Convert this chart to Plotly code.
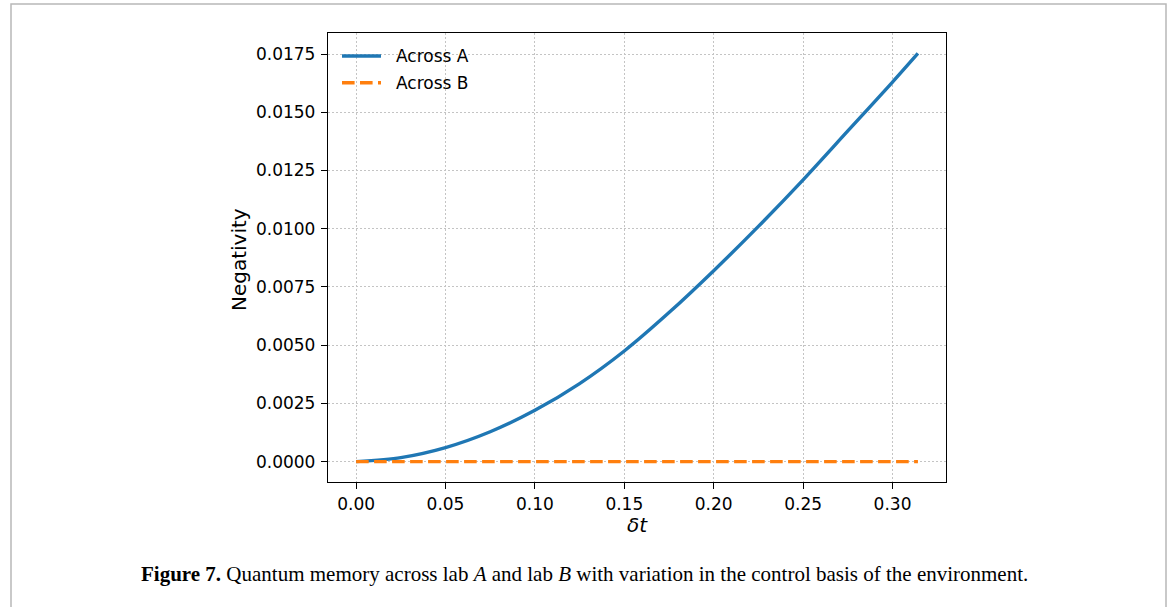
import plotly.graph_objects as go

# ---- data ----
delta_t = [0.0, 0.025, 0.05, 0.075, 0.10, 0.125, 0.15, 0.175, 0.20, 0.225, 0.25, 0.275, 0.30, 0.3142]
neg_A = [0.0, 0.00017, 0.0006, 0.00128, 0.0022, 0.00335, 0.00475, 0.0064, 0.0082, 0.0101, 0.0121, 0.0142, 0.0163, 0.01753]
neg_B = [0.0] * len(delta_t)
series_names = ["Across A", "Across B"]
x_ticks = [0.0, 0.05, 0.10, 0.15, 0.20, 0.25, 0.30]
y_ticks = [0.0, 0.0025, 0.005, 0.0075, 0.01, 0.0125, 0.015, 0.0175]

W, H = 1173, 607
L, R, T, B = 328, 946, 33, 482
pw, ph = R - L, B - T


def px(xp):
    return (xp - L) / pw


def py(yp):
    return (B - yp) / ph


BLUE = "#1f77b4"
ORANGE = "#ff7f0e"
TICKFONT = dict(family="DejaVu Sans", size=17, color="#000000")
LABELFONT = dict(family="DejaVu Sans", size=20, color="#000000")
GRID = dict(showgrid=True, gridcolor="#c4c4c4", griddash="1.5px,2.5px", gridwidth=1)
AXIS = dict(zeroline=False, showline=True, linecolor="#000000", linewidth=1.3, mirror=True,
            ticks="outside", ticklen=6, tickwidth=1.3, tickcolor="#000000", tickfont=TICKFONT)

fig = go.Figure()
fig.add_trace(go.Scatter(x=delta_t, y=neg_A, mode="lines", name=series_names[0],
                         line=dict(color=BLUE, width=3.4, shape="spline", smoothing=0.8),
                         showlegend=False))
fig.add_trace(go.Scatter(x=delta_t, y=neg_B, mode="lines", name=series_names[1],
                         line=dict(color=ORANGE, width=3.4, dash="12.6px,5.4px"), showlegend=False))

xmax = max(delta_t)
ymax = max(neg_A)
fig.update_xaxes(range=[-0.05 * xmax, 1.05 * xmax], tickvals=x_ticks, tickformat=".2f",
                 ticklabelstandoff=0, **GRID, **AXIS)
fig.update_yaxes(range=[-0.05 * ymax, 1.05 * ymax], tickvals=y_ticks, tickformat=".4f",
                 ticklabelstandoff=2, **GRID, **AXIS)

shapes = [
    # outer page border
    dict(type="rect", xref="paper", yref="paper", x0=px(11), x1=px(1166), y0=py(615), y1=py(4),
         line=dict(color="#b8b8b8", width=1.5), fillcolor="rgba(0,0,0,0)", layer="below"),
    # legend samples
    dict(type="line", xref="paper", yref="paper", x0=px(342), x1=px(381), y0=py(56), y1=py(56),
         line=dict(color=BLUE, width=3.4)),
    dict(type="line", xref="paper", yref="paper", x0=px(342), x1=px(381), y0=py(82.7), y1=py(82.7),
         line=dict(color=ORANGE, width=3.4, dash="12.6px,5.4px")),
]

annotations = [
    dict(text=series_names[0], xref="paper", yref="paper", x=px(394), y=py(56), xanchor="left",
         yanchor="middle", showarrow=False, font=TICKFONT),
    dict(text=series_names[1], xref="paper", yref="paper", x=px(394), y=py(82.7), xanchor="left",
         yanchor="middle", showarrow=False, font=TICKFONT),
    dict(text="Negativity", xref="paper", yref="paper", x=px(239), y=py(260), textangle=-90,
         xanchor="center", yanchor="middle", showarrow=False, font=LABELFONT),
    dict(text="<i>δt</i>", xref="paper", yref="paper", x=px(637), y=py(525),
         xanchor="center", yanchor="middle", showarrow=False, font=LABELFONT),
    dict(text="<b>Figure 7.</b> Quantum memory across lab <i>A</i> and lab <i>B</i> with variation in the control basis of the environment.",
         xref="paper", yref="paper", x=px(139), y=py(574), xanchor="left", yanchor="middle",
         showarrow=False, font=dict(family="Liberation Serif", size=21, color="#000000")),
]

fig.update_layout(width=W, height=H, margin=dict(l=L, r=W - R, t=T, b=H - B),
                  paper_bgcolor="white", plot_bgcolor="white", showlegend=False,
                  shapes=shapes, annotations=annotations)

fig.write_html("out.html")
